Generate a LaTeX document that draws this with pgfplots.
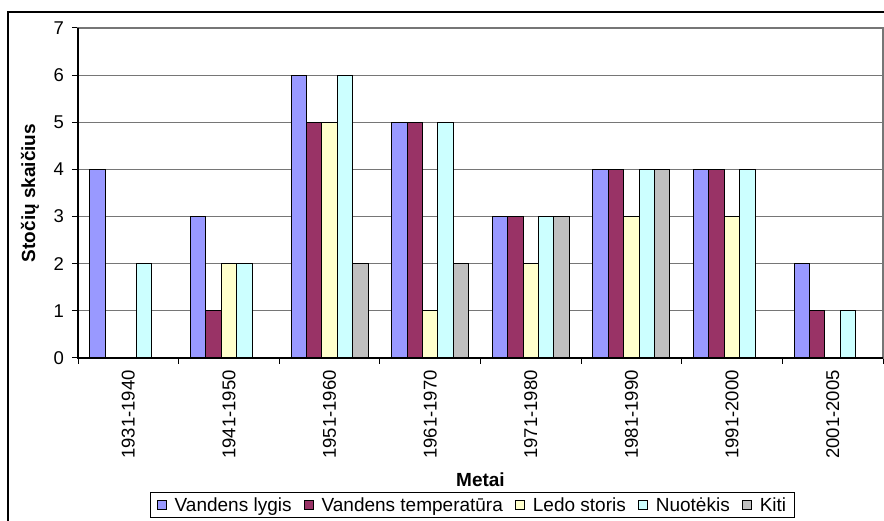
\documentclass[border=0pt]{standalone}
\usepackage{fontspec}
\setmainfont{Liberation Sans}
\usepackage{pgfplots}
\pgfplotsset{compat=1.18}
\definecolor{cA}{HTML}{9999FF}
\definecolor{cB}{HTML}{993366}
\definecolor{cC}{HTML}{FFFFCC}
\definecolor{cD}{HTML}{CCFFFF}
\definecolor{cE}{HTML}{C0C0C0}
\definecolor{gridc}{HTML}{767676}
\begin{document}
\begin{tikzpicture}
\useasboundingbox (0,0) rectangle (884pt,521pt);
\fill[white] (0,0) rectangle (884pt,521pt);
\draw[line width=1.2pt] (8pt,-20pt) rectangle (910pt,509pt);
\begin{axis}[
  at={(78pt,163pt)}, anchor=south west,
  scale only axis, width=805pt, height=330pt,
  xmin=-0.5, xmax=7.5, ymin=0, ymax=7,
  ybar=0pt, bar width=15.4pt,
  /pgf/number format/assume math mode=true,
  font=\fontsize{18.5}{22}\selectfont,
  axis line style={gridc, line width=1.2pt},
  xtick={-0.5,0.5,1.5,2.5,3.5,4.5,5.5,6.5,7.5},
  xticklabels={},
  extra x ticks={0,1,2,3,4,5,6,7},
  extra x tick labels={1931-1940,1941-1950,1951-1960,1961-1970,1971-1980,1981-1990,1991-2000,2001-2005},
  extra x tick style={major tick length=0pt, xticklabel style={yshift=-12pt, rotate=90, anchor=east, inner sep=0pt}},
  ytick={0,1,2,3,4,5,6,7},
  xtick pos=bottom, ytick pos=left,
  tick align=outside, major tick length=6pt,
  tick style={black, line width=1pt},
  yticklabel style={inner sep=0pt, xshift=-8pt},
  ymajorgrids, grid style={gridc, line width=1.2pt},
  xlabel={\bfseries Metai},
  ylabel={\bfseries Stočių skaičius},
  label style={font=\fontsize{19}{22}\selectfont},
  xlabel style={at={(axis description cs:0.5,-0.3697)}, anchor=center},
  ylabel style={at={(axis description cs:-0.0596,0.5)}, anchor=center},
  legend columns=-1,
  legend style={at={(axis description cs:0.49,-0.406)}, anchor=north, draw=black, line width=1pt,
    font=\fontsize{19}{22}\selectfont, inner xsep=6pt, inner ysep=3pt,
    /tikz/every odd column/.append style={column sep=6pt},
    /tikz/every even column/.append style={column sep=10pt}},
  legend image code/.code={\draw[#1,line width=1pt] (0pt,-4.5pt) rectangle (9pt,4.5pt);},
  every axis plot/.append style={draw=black, line width=1pt},
  after end axis/.append code={
    \draw[black,line width=1.2pt] (rel axis cs:0,1) -- (rel axis cs:0,0) -- (rel axis cs:1,0);
  },
]
\addplot[fill=cA, draw=black] coordinates {(0,4) (1,3) (2,6) (3,5) (4,3) (5,4) (6,4) (7,2)};
\addplot[fill=cB, draw=black] coordinates {(1,1) (2,5) (3,5) (4,3) (5,4) (6,4) (7,1)};
\addplot[fill=cC, draw=black] coordinates {(1,2) (2,5) (3,1) (4,2) (5,3) (6,3)};
\addplot[fill=cD, draw=black] coordinates {(0,2) (1,2) (2,6) (3,5) (4,3) (5,4) (6,4) (7,1)};
\addplot[fill=cE, draw=black] coordinates {(2,2) (3,2) (4,3) (5,4)};
\legend{Vandens lygis, Vandens temperatūra, Ledo storis, Nuotėkis, Kiti}
\end{axis}
\end{tikzpicture}
\end{document}
